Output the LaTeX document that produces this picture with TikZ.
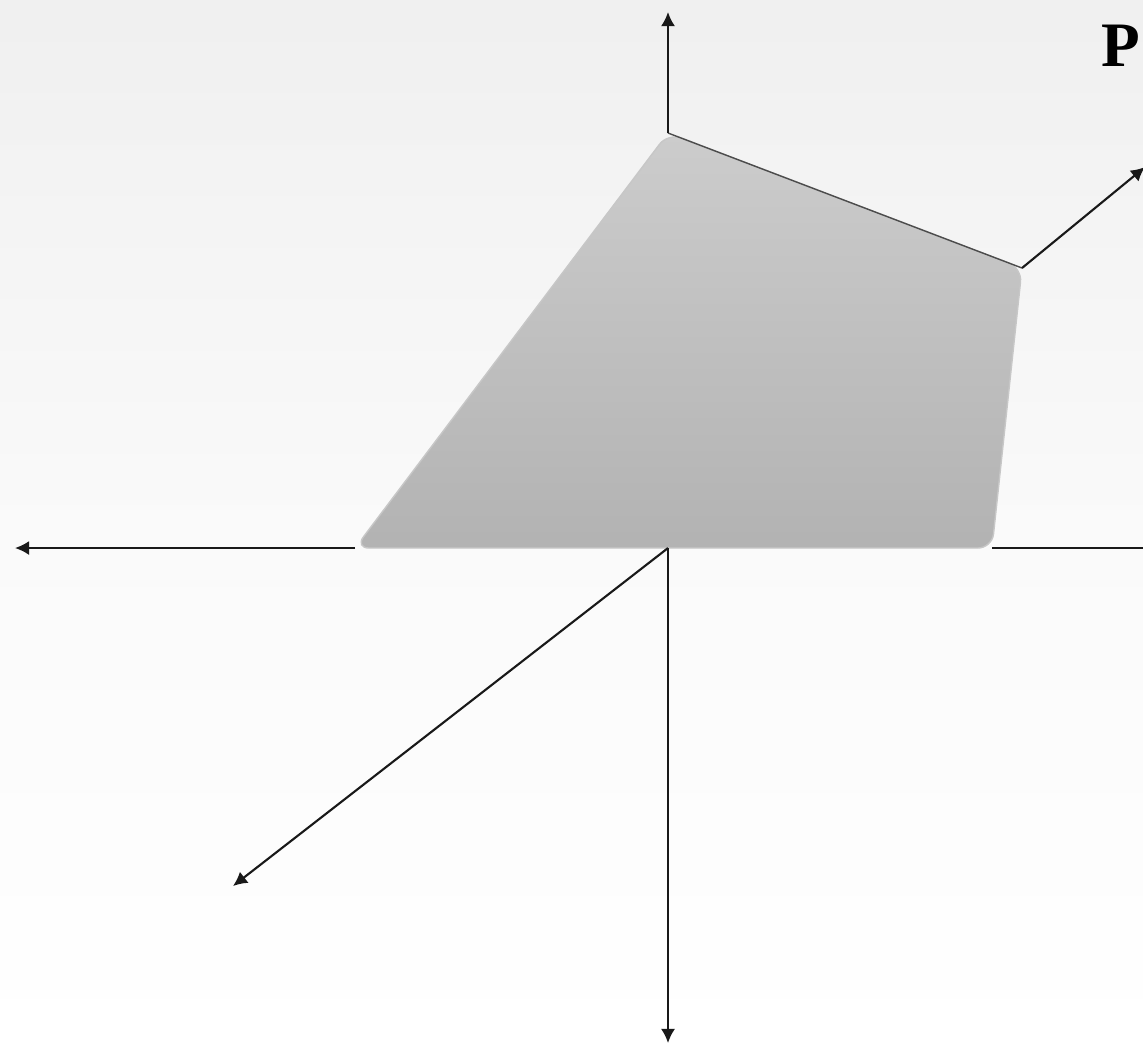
\documentclass[tikz,border=0pt]{standalone}
\usepackage{fontspec}
\setmainfont{Liberation Serif}
\usepackage{tikz}
\usetikzlibrary{arrows.meta, positioning}

\tikzset{
  axis/.style={draw=black!90, line width=0.6pt, -{Latex[length=4pt,width=4pt]}},
  face/.style={rounded corners=4pt, top color=black!20, bottom color=black!30, draw=black!22, line width=0.4pt}
}

\begin{document}
\begin{tikzpicture}[x=0.01cm, y=-0.01cm]
  % background
  \shade[top color=black!6, bottom color=white, middle color=black!2] (0,0) rectangle (1143,1050);
  \useasboundingbox (0,0) rectangle (1143,1050);

  \coordinate (o) at (668,548);
  \coordinate (a) at (355,548);
  \coordinate (b) at (668,133);
  \coordinate (c) at (1022,268);
  \coordinate (d) at (992,548);

  \coordinate (up) at (668,12);
  \coordinate (down) at (668,1043);
  \coordinate (left) at (15,548);
  \coordinate (right) at (1150,548);
  \coordinate (diag) at (1145,167);
  \coordinate (front) at (233,886);

  \path[face] (a) -- (b) -- (c) -- (d) -- cycle;
  \draw[black!70, line width=0.4pt] (b) -- (c);

  \draw[axis] (b) -- (up);
  \draw[axis] (o) -- (down);
  \draw[axis] (a) -- (left);
  \draw[draw=black!90, line width=0.6pt] (d) -- (right);
  \draw[axis] (c) -- (diag);
  \draw[axis] (o) -- (front);

  \node[anchor=east, inner sep=0pt, font=\fontsize{18}{18}\selectfont\bfseries] (p) at (1141,46) {P};
\end{tikzpicture}
\end{document}
